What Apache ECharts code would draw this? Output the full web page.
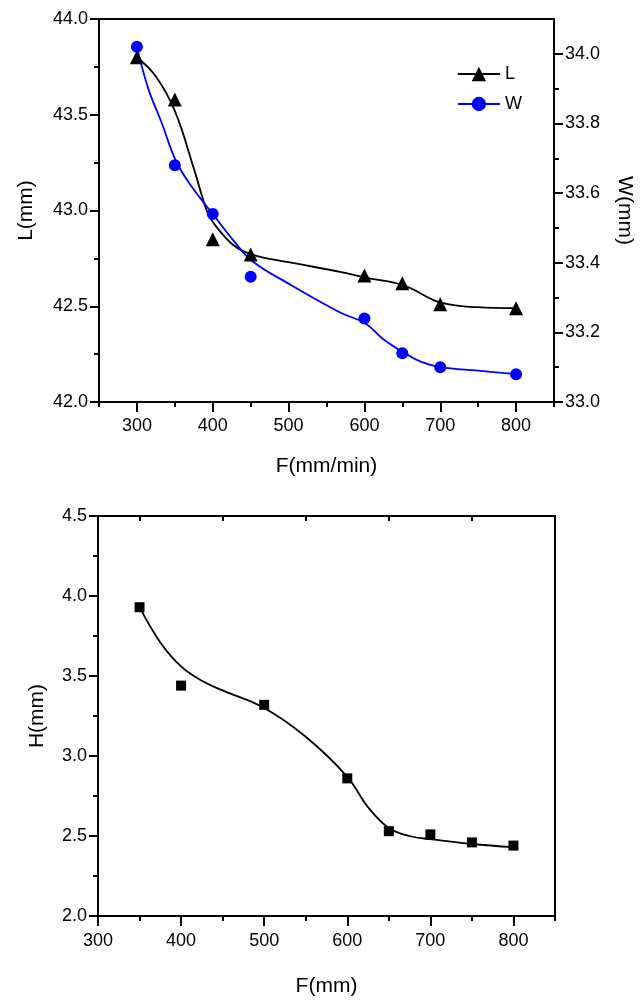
<!DOCTYPE html>
<html>
<head>
<meta charset="utf-8">
<script src="https://cdn.jsdelivr.net/npm/echarts@6/dist/echarts.min.js"></script>
<style>
html,body{margin:0;padding:0;background:#fff;}
#c{width:643px;height:1000px;}
</style>
</head>
<body>
<div id="c"></div>
<script>
// ---- Top chart data ----
const topF = [300, 350, 400, 450, 600, 650, 700, 800];
const lValues = [43.80, 43.58, 42.85, 42.77, 42.66, 42.62, 42.51, 42.49];
const wValues = [34.02, 33.68, 33.54, 33.36, 33.24, 33.14, 33.10, 33.08];
// fitted curves
const lCurveF = [300, 325, 350, 375, 392, 400, 427, 452, 500, 568, 601, 651, 700, 749, 800];
const lCurveV = [43.80, 43.70, 43.52, 43.22, 43.00, 42.94, 42.82, 42.77, 42.73, 42.68, 42.65, 42.61, 42.52, 42.495, 42.49];
const wCurveF = [300, 315, 333, 352, 375, 400, 425, 452, 500, 568, 601, 625, 651, 675, 700, 750, 800];
const wCurveV = [34.02, 33.90, 33.80, 33.69, 33.61, 33.54, 33.47, 33.405, 33.34, 33.257, 33.226, 33.18, 33.143, 33.115, 33.10, 33.09, 33.08];
// ---- Bottom chart data ----
const botF = [350, 400, 500, 600, 650, 700, 750, 800];
const hValues = [3.93, 3.44, 3.32, 2.86, 2.53, 2.51, 2.46, 2.44];
const hCurveF = [350, 375, 400, 425, 450, 500, 550, 600, 625, 650, 675, 700, 750, 800];
const hCurveV = [3.93, 3.71, 3.56, 3.47, 3.41, 3.30, 3.12, 2.87, 2.68, 2.55, 2.50, 2.48, 2.45, 2.43];
// ---- tick values ----
const topXMajor = [300, 400, 500, 600, 700, 800];
const topXMinor = [250, 350, 450, 550, 650, 750, 850];
const lMajor = [42.0, 42.5, 43.0, 43.5, 44.0];
const lMinor = [42.25, 42.75, 43.25, 43.75];
const wMajor = [33.0, 33.2, 33.4, 33.6, 33.8, 34.0];
const wMinor = [33.1, 33.3, 33.5, 33.7, 33.9];
const botXMajor = [300, 400, 500, 600, 700, 800];
const botXMinor = [350, 450, 550, 650, 750, 850];
const hMajor = [2.0, 2.5, 3.0, 3.5, 4.0, 4.5];
const hMinor = [2.25, 2.75, 3.25, 3.75, 4.25];

const zip = (a, b) => a.map((v, i) => [v, b[i]]);
const FONT = 'Liberation Sans, Arial, sans-serif';
const LBL = {fontFamily: FONT, fontSize: 18, color: '#000'};
const NAME = {fontFamily: FONT, fontSize: 21, color: '#000'};
const LINE = {show: true, lineStyle: {color: '#000', width: 2}};
const CW = 1.8;

function majorAxis(extra) {
  return Object.assign({
    type: 'value', splitLine: {show: false},
    axisLine: LINE,
  }, extra);
}

const chart = echarts.init(document.getElementById('c'), null, {renderer: 'canvas'});
chart.setOption({
  backgroundColor: '#fff',
  animation: false,
  grid: [
    {left: 99, width: 455, top: 19, height: 383},
    {left: 98, width: 457, top: 516, height: 400}
  ],
  legend: {
    orient: 'vertical', left: 452, top: 60, itemWidth: 42, itemHeight: 18, itemGap: 12,
    textStyle: {fontFamily: FONT, fontSize: 18, color: '#000'},
    data: [
      {name: 'L', lineStyle: {color: '#000', width: CW, opacity: 1}},
      {name: 'W', lineStyle: {color: '#0000ff', width: CW, opacity: 1}}
    ]
  },
  xAxis: [
    majorAxis({gridIndex: 0, position: 'bottom', min: 250, max: 850,
      axisTick: {show: true, customValues: topXMajor, length: 10, lineStyle: {width: 2, color: '#000'}},
      axisLabel: Object.assign({customValues: topXMajor, margin: 15}, LBL),
      name: 'F(mm/min)', nameLocation: 'middle', nameGap: 54, nameTextStyle: NAME}),
    {type: 'value', gridIndex: 0, position: 'bottom', min: 250, max: 850, splitLine: {show: false},
      axisLine: {show: false}, axisLabel: {show: false},
      axisTick: {show: true, customValues: topXMinor, length: 5, lineStyle: {width: 2, color: '#000'}}},
    {type: 'value', gridIndex: 0, position: 'top', min: 250, max: 850, splitLine: {show: false},
      axisLine: LINE, axisLabel: {show: false}, axisTick: {show: false}},
    majorAxis({gridIndex: 1, position: 'bottom', min: 300, max: 850,
      axisTick: {show: true, customValues: botXMajor, length: 10, lineStyle: {width: 2, color: '#000'}},
      axisLabel: Object.assign({customValues: botXMajor, margin: 16}, LBL),
      name: 'F(mm)', nameLocation: 'middle', nameGap: 60, nameTextStyle: NAME}),
    {type: 'value', gridIndex: 1, position: 'bottom', min: 300, max: 850, splitLine: {show: false},
      axisLine: {show: false}, axisLabel: {show: false},
      axisTick: {show: true, customValues: botXMinor, length: 5, lineStyle: {width: 2, color: '#000'}}},
    {type: 'value', gridIndex: 1, position: 'top', min: 300, max: 850, splitLine: {show: false},
      axisLine: LINE, axisLabel: {show: false},
      axisTick: {show: true, inside: true, customValues: botXMinor, length: 5, lineStyle: {width: 2, color: '#000'}}}
  ],
  yAxis: [
    majorAxis({gridIndex: 0, position: 'left', min: 42, max: 44,
      axisTick: {show: true, customValues: lMajor, length: 9, lineStyle: {width: 2, color: '#000'}},
      axisLabel: Object.assign({customValues: lMajor, margin: 11, formatter: v => v.toFixed(1)}, LBL),
      name: 'L(mm)', nameLocation: 'middle', nameGap: 62, nameTextStyle: NAME}),
    {type: 'value', gridIndex: 0, position: 'left', min: 42, max: 44, splitLine: {show: false},
      axisLine: {show: false}, axisLabel: {show: false},
      axisTick: {show: true, customValues: lMinor, length: 5, lineStyle: {width: 2, color: '#000'}}},
    majorAxis({gridIndex: 0, position: 'right', min: 33, max: 34.1,
      axisTick: {show: true, customValues: wMajor, length: 9, lineStyle: {width: 2, color: '#000'}},
      axisLabel: Object.assign({customValues: wMajor, margin: 11, formatter: v => v.toFixed(1)}, LBL),
      name: 'W(mm)', nameLocation: 'middle', nameGap: 60, nameRotate: -90, nameTextStyle: NAME}),
    {type: 'value', gridIndex: 0, position: 'right', min: 33, max: 34.1, splitLine: {show: false},
      axisLine: {show: false}, axisLabel: {show: false},
      axisTick: {show: true, customValues: wMinor, length: 5, lineStyle: {width: 2, color: '#000'}}},
    majorAxis({gridIndex: 1, position: 'left', min: 2, max: 4.5,
      axisTick: {show: true, customValues: hMajor, length: 9, lineStyle: {width: 2, color: '#000'}},
      axisLabel: Object.assign({customValues: hMajor, margin: 11, formatter: v => v.toFixed(1)}, LBL),
      name: 'H(mm)', nameLocation: 'middle', nameGap: 50, nameTextStyle: NAME}),
    {type: 'value', gridIndex: 1, position: 'left', min: 2, max: 4.5, splitLine: {show: false},
      axisLine: {show: false}, axisLabel: {show: false},
      axisTick: {show: true, customValues: hMinor, length: 5, lineStyle: {width: 2, color: '#000'}}},
    {type: 'value', gridIndex: 1, position: 'right', min: 2, max: 4.5, splitLine: {show: false},
      axisLine: LINE, axisLabel: {show: false}, axisTick: {show: false}}
  ],
  series: [
    {name: 'L', type: 'line', xAxisIndex: 0, yAxisIndex: 0, data: zip(topF, lValues),
      symbol: 'triangle', symbolSize: 14, itemStyle: {color: '#000'},
      lineStyle: {opacity: 0, color: '#000'}, z: 5},
    {name: 'L', type: 'line', xAxisIndex: 0, yAxisIndex: 0, data: zip(lCurveF, lCurveV),
      smooth: 0.4, symbol: 'none', lineStyle: {color: '#000', width: CW}, z: 3},
    {name: 'W', type: 'line', xAxisIndex: 0, yAxisIndex: 2, data: zip(topF, wValues),
      symbol: 'circle', symbolSize: 12, itemStyle: {color: '#0000ff'},
      lineStyle: {opacity: 0, color: '#0000ff'}, z: 5},
    {name: 'W', type: 'line', xAxisIndex: 0, yAxisIndex: 2, data: zip(wCurveF, wCurveV),
      smooth: 0.4, symbol: 'none', lineStyle: {color: '#0000ff', width: CW}, z: 3},
    {name: 'H', type: 'line', xAxisIndex: 3, yAxisIndex: 4, data: zip(botF, hValues),
      symbol: 'rect', symbolSize: 10, itemStyle: {color: '#000'},
      lineStyle: {opacity: 0}, z: 5},
    {name: 'Hfit', type: 'line', xAxisIndex: 3, yAxisIndex: 4, data: zip(hCurveF, hCurveV),
      smooth: 0.4, symbol: 'none', lineStyle: {color: '#000', width: CW}, z: 3}
  ]
});
</script>
</body>
</html>
